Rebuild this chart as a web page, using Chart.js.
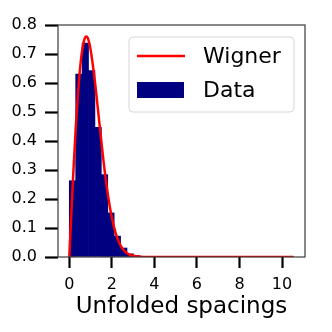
<!DOCTYPE html>
<html><head><meta charset="utf-8">
<script src="https://cdn.jsdelivr.net/npm/chart.js@4/dist/chart.umd.min.js"></script>
<style>html,body{margin:0;padding:0;background:#fff}canvas{display:block}</style>
</head><body><canvas id="c" width="332" height="332" style="width:332px;height:332px"></canvas>
<script>
// Histogram of unfolded spacings (density), bin centers
const binCenters = [0.151, 0.452, 0.754, 1.055, 1.356, 1.658, 1.959, 2.261, 2.562, 2.863, 3.165, 3.466, 3.768];
const binDensity = [0.263, 0.631, 0.738, 0.643, 0.447, 0.284, 0.152, 0.072, 0.031, 0.011, 0.005, 0.002, 0.001];
// Wigner surmise curve
const wignerS = [0, 0.1, 0.2, 0.3, 0.4, 0.5, 0.6, 0.7, 0.8, 0.9, 1.0, 1.2, 1.4, 1.6, 1.8, 2.0, 2.2, 2.4, 2.6, 2.8, 3.0, 3.5, 4.0, 5.0, 10.55];
const wignerP = [0, 0.156, 0.305, 0.439, 0.554, 0.645, 0.710, 0.748, 0.760, 0.749, 0.716, 0.608, 0.472, 0.337, 0.222, 0.136, 0.077, 0.041, 0.020, 0.009, 0.004, 0.0004, 0, 0, 0];
const xTicks = [0, 2, 4, 6, 8, 10];
const xTickLabels = ['0', '2', '4', '6', '8', '10'];
const yTicks = [0, 0.1, 0.2, 0.3, 0.4, 0.5, 0.6, 0.7, 0.8];
const yTickLabels = ['0.0', '0.1', '0.2', '0.3', '0.4', '0.5', '0.6', '0.7', '0.8'];
const xTitle = 'Unfolded spacings';
const seriesLabels = ['Wigner', 'Data'];

const FONT = 'DejaVu Sans';

const framePlugin = {
  id: 'frame',
  afterDatasetsDraw(chart) {
    const {ctx, chartArea: a} = chart;
    ctx.save();
    ctx.strokeStyle = '#3a3a3a';
    ctx.lineWidth = 1.2;
    ctx.strokeRect(a.left, a.top, a.right - a.left, a.bottom - a.top);
    ctx.restore();
  }
};

const legendPlugin = {
  id: 'boxLegend',
  afterDraw(chart) {
    const ctx = chart.ctx;
    const ds = chart.data.datasets;
    const x0 = 129, y0 = 37, w = 165, h = 75, r = 4;
    ctx.save();
    ctx.beginPath();
    ctx.moveTo(x0 + r, y0);
    ctx.arcTo(x0 + w, y0, x0 + w, y0 + h, r);
    ctx.arcTo(x0 + w, y0 + h, x0, y0 + h, r);
    ctx.arcTo(x0, y0 + h, x0, y0, r);
    ctx.arcTo(x0, y0, x0 + w, y0, r);
    ctx.closePath();
    ctx.fillStyle = 'rgba(255,255,255,0.8)';
    ctx.fill();
    ctx.strokeStyle = '#d6d6d6';
    ctx.lineWidth = 1;
    ctx.stroke();
    // line entry
    ctx.strokeStyle = ds[0].borderColor;
    ctx.lineWidth = ds[0].borderWidth;
    ctx.beginPath();
    ctx.moveTo(137, 56);
    ctx.lineTo(185, 56);
    ctx.stroke();
    // patch entry
    ctx.fillStyle = ds[1].backgroundColor;
    ctx.fillRect(137, 82, 47, 16);
    ctx.fillStyle = '#000';
    ctx.font = '22px "' + FONT + '"';
    ctx.textBaseline = 'middle';
    ctx.textAlign = 'left';
    ctx.fillText(ds[0].label, 203, 57);
    ctx.fillText(ds[1].label, 203, 91);
    ctx.restore();
  }
};

new Chart(document.getElementById('c'), {
  type: 'bar',
  data: {
    datasets: [
      {
        type: 'line',
        label: seriesLabels[0],
        data: wignerS.map((s, i) => ({x: s, y: wignerP[i]})),
        borderColor: '#ff0000',
        backgroundColor: '#ff0000',
        borderWidth: 2.5,
        pointRadius: 0,
        cubicInterpolationMode: 'monotone',
        fill: false,
        order: 0
      },
      {
        type: 'bar',
        label: seriesLabels[1],
        data: binCenters.map((c, i) => ({x: c, y: binDensity[i]})),
        backgroundColor: '#000080',
        borderWidth: 0,
        barPercentage: 1,
        categoryPercentage: 1,
        order: 1
      }
    ]
  },
  options: {
    responsive: false,
    animation: false,
    devicePixelRatio: 1,
    layout: {padding: {left: 0, right: 27, top: 25, bottom: 0}},
    plugins: {legend: {display: false}, tooltip: {enabled: false}},
    scales: {
      x: {
        type: 'linear',
        offset: false,
        min: -0.53,
        max: 11.08,
        afterBuildTicks(scale) { scale.ticks = xTicks.map(v => ({value: v})); },
        afterFit(scale) { scale.height = 75; },
        ticks: {
          autoSkip: false,
          maxRotation: 0,
          padding: 7,
          color: '#000',
          font: {family: FONT, size: 16},
          callback: (v, i) => xTickLabels[i]
        },
        grid: {display: true, offset: false, drawOnChartArea: false, drawTicks: true, tickLength: 11, tickWidth: 2.2, tickColor: '#000'},
        border: {display: false},
        title: {display: true, text: xTitle, color: '#000', font: {family: FONT, size: 23}, padding: {top: 0, bottom: 11}}
      },
      y: {
        type: 'linear',
        min: 0,
        max: 0.8,
        afterBuildTicks(scale) { scale.ticks = yTicks.map(v => ({value: v})); },
        afterFit(scale) { scale.width = 58; },
        ticks: {
          autoSkip: false,
          padding: 8,
          color: '#000',
          font: {family: FONT, size: 16},
          callback: (v, i) => yTickLabels[i]
        },
        grid: {display: true, drawOnChartArea: false, drawTicks: true, tickLength: 13, tickWidth: 2.2, tickColor: '#000'},
        border: {display: false}
      }
    }
  },
  plugins: [framePlugin, legendPlugin]
});
</script>
</body></html>
